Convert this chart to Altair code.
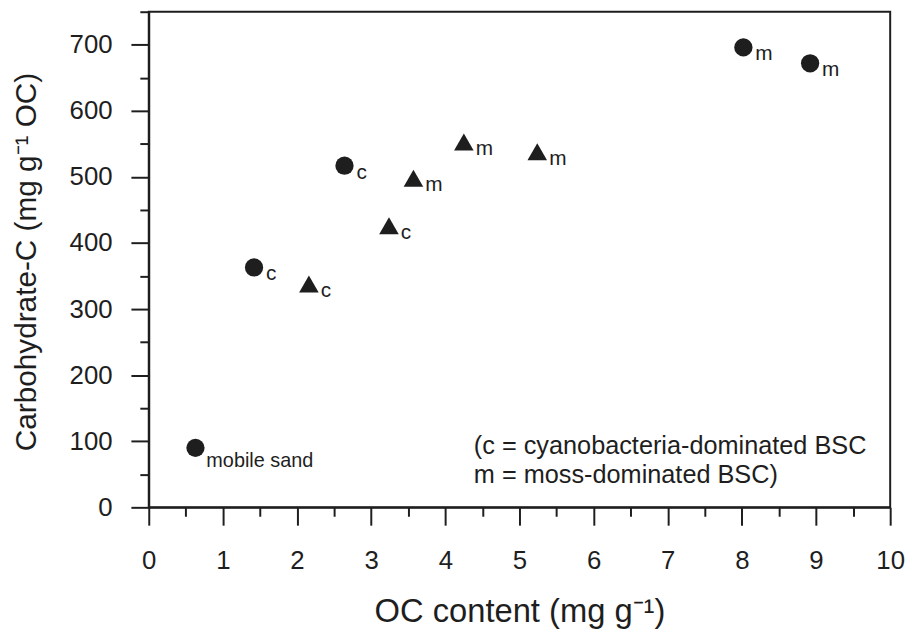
import altair as alt
import pandas as pd

# ---- data ----
circle_x = [0.63, 1.42, 2.64, 8.02, 8.92]
circle_y = [90, 363, 517, 696, 672]
circle_lab = ["mobile sand", "c", "c", "m", "m"]

tri_x = [2.16, 3.24, 3.57, 4.25, 5.24]
tri_y = [338, 426, 498, 553, 538]
tri_lab = ["c", "c", "m", "m", "m"]

x_ticks = [i * 0.5 for i in range(21)]
y_ticks = list(range(0, 751, 50))
legend_lines = ["(c = cyanobacteria-dominated BSC", "m = moss-dominated BSC)"]

df = pd.DataFrame({
    "x": circle_x + tri_x,
    "y": circle_y + tri_y,
    "label": circle_lab + tri_lab,
    "kind": ["circle"] * len(circle_x) + ["triangle"] * len(tri_x),
})

FONT = "Liberation Sans, Arial, Helvetica, sans-serif"
INK = "#1e1e1e"

xscale = alt.Scale(domain=[0, 10], nice=False, zero=False)
yscale = alt.Scale(domain=[0, 750], nice=False, zero=False)

xaxis = alt.Axis(
    values=x_ticks,
    title="OC content (mg g⁻¹)",
    tickSize={"condition": {"test": "datum.value % 1 === 0", "value": 18}, "value": 9},
    labelExpr="datum.value % 1 === 0 ? format(datum.value, 'd') : ''",
    labelPadding=23,
    labelFlush=False,
    labelOverlap=False,
    titleX=374,
    titleY=115,
    titleAlign="center",
    titleBaseline="alphabetic",
    titleFontSize=33,
)

yaxis = alt.Axis(
    values=y_ticks,
    title="Carbohydrate-C (mg g⁻¹ OC)",
    tickSize={"condition": {"test": "datum.value % 100 === 0", "value": 18}, "value": 9},
    labelExpr="datum.value % 100 === 0 ? format(datum.value, 'd') : ''",
    labelPadding=19,
    labelFlush=False,
    labelOverlap=False,
    titleAngle=-90,
    titleX=-114,
    titleY=252,
    titleAlign="center",
    titleBaseline="alphabetic",
    titleFontSize=30,
)

base = alt.Chart(df).encode(
    x=alt.X("x:Q", scale=xscale, axis=xaxis),
    y=alt.Y("y:Q", scale=yscale, axis=yaxis),
)

circles = base.transform_filter("datum.kind === 'circle'").mark_point(
    shape="circle", filled=True, size=340, color=INK, opacity=1
)
triangles = base.transform_filter("datum.kind === 'triangle'").mark_point(
    shape="triangle-up", filled=True, size=390, color=INK, opacity=1
)
labels_cm = base.transform_filter("datum.label !== 'mobile sand'").mark_text(
    align="left", baseline="alphabetic", dx=12, dy=13, fontSize=21, font=FONT, color=INK
).encode(text="label:N")
label_sand = base.transform_filter("datum.label === 'mobile sand'").mark_text(
    align="left", baseline="alphabetic", dx=11, dy=19, fontSize=20, font=FONT, color=INK
).encode(text="label:N")

legend = alt.Chart(pd.DataFrame({"a": [0]})).mark_text(
    text=legend_lines, align="left", baseline="alphabetic", fontSize=25.5,
    lineHeight=29, font=FONT, color=INK
).encode(x=alt.value(328), y=alt.value(446))

chart = alt.layer(circles, triangles, labels_cm, label_sand, legend).properties(
    width=748,
    height=500,
    autosize=alt.AutoSizeParams(type="none"),
    padding={"left": 142, "top": 1, "right": 21, "bottom": 121},
).configure_view(
    stroke=INK, strokeWidth=2
).configure_axis(
    grid=False,
    domainColor=INK,
    domainWidth=2,
    tickColor=INK,
    tickWidth=2,
    labelFont=FONT,
    labelFontSize=26,
    labelColor=INK,
    titleFont=FONT,
    titleFontWeight="normal",
    titleColor=INK,
)

chart.save("out.html", embed_options={"renderer": "svg", "actions": False})
